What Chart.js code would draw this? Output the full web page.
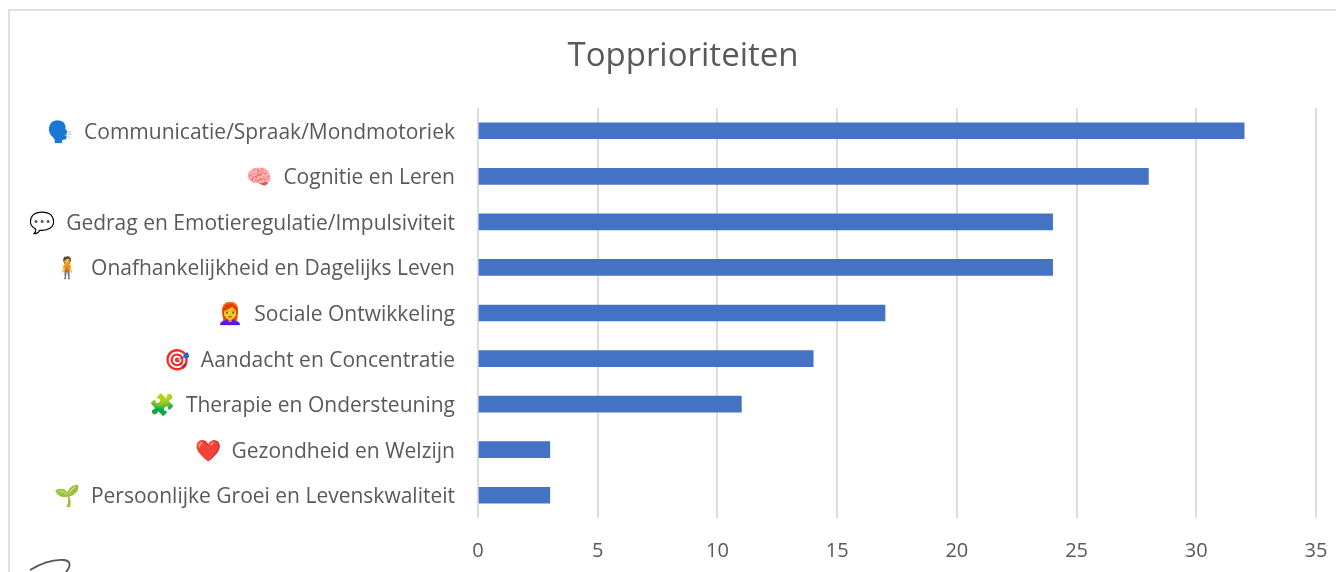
<!DOCTYPE html>
<html>
<head>
<meta charset="utf-8">
<style>
  html, body { margin: 0; padding: 0; background: #fff; overflow: hidden; }
  #frame { position: absolute; left: 8px; top: 9px; width: 1400px; height: 620px; border: 2px solid #e0e0e0; box-sizing: border-box; }
  #c { position: absolute; left: 0; top: 0; }
  #scribble { position: absolute; left: 0; top: 550px; }
</style>
</head>
<body>
<div id="frame"></div>
<canvas id="c" width="1366" height="572"></canvas>
<svg id="scribble" width="100" height="22"><path d="M30 20 C40 14 52 9 64 10 C71 11 71 16 66 22" fill="none" stroke="#555" stroke-width="1.8"/></svg>
<script src="https://cdn.jsdelivr.net/npm/chart.js@4/dist/chart.umd.min.js"></script>
<script>
const categories = [
  '🗣️  Communicatie/Spraak/Mondmotoriek',
  '🧠  Cognitie en Leren',
  '💬  Gedrag en Emotieregulatie/Impulsiviteit',
  '🧍  Onafhankelijkheid en Dagelijks Leven',
  '👩‍🦰  Sociale Ontwikkeling',
  '🎯  Aandacht en Concentratie',
  '🧩  Therapie en Ondersteuning',
  '❤️  Gezondheid en Welzijn',
  '🌱  Persoonlijke Groei en Levenskwaliteit'
];
const values = [32, 28, 24, 24, 17, 14, 11, 3, 3];
const xTicks = [0, 5, 10, 15, 20, 25, 30, 35];

const font = "'Open Sans', sans-serif";

// the title is centred on the frame, not on the plot's left/right padding
const shiftTitle = {
  id: 'shiftTitle',
  afterLayout(chart) { chart.titleBlock.left = 50; }
};

new Chart(document.getElementById('c'), {
  type: 'bar',
  data: {
    labels: categories,
    datasets: [{
      data: values,
      backgroundColor: '#4472c4',
      barThickness: 16
    }]
  },
  plugins: [shiftTitle],
  options: {
    indexAxis: 'y',
    responsive: false,
    animation: false,
    layout: { padding: { left: 0, right: 50, top: 0, bottom: 0 } },
    scales: {
      x: {
        min: 0,
        max: 35,
        afterBuildTicks: axis => { axis.ticks = xTicks.map(value => ({ value })); },
        afterFit: axis => { axis.height = 54; },
        grid: { color: '#dcdcdc', lineWidth: 2, drawTicks: false },
        border: { display: false },
        ticks: { color: '#595959', padding: 21, maxRotation: 0, font: { family: font, size: 20 } }
      },
      y: {
        afterFit: axis => { axis.width = 478; },
        grid: { display: false },
        border: { display: false },
        ticks: { color: '#595959', padding: 15, labelOffset: 2, font: { family: font, size: 21 } }
      }
    },
    plugins: {
      legend: { display: false },
      tooltip: { enabled: false },
      title: {
        display: true,
        text: 'Topprioriteiten',
        color: '#595959',
        font: { family: font, size: 33, weight: 'normal' },
        padding: { top: 37.2, bottom: 31.2 }
      }
    }
  }
});
</script>
</body>
</html>
